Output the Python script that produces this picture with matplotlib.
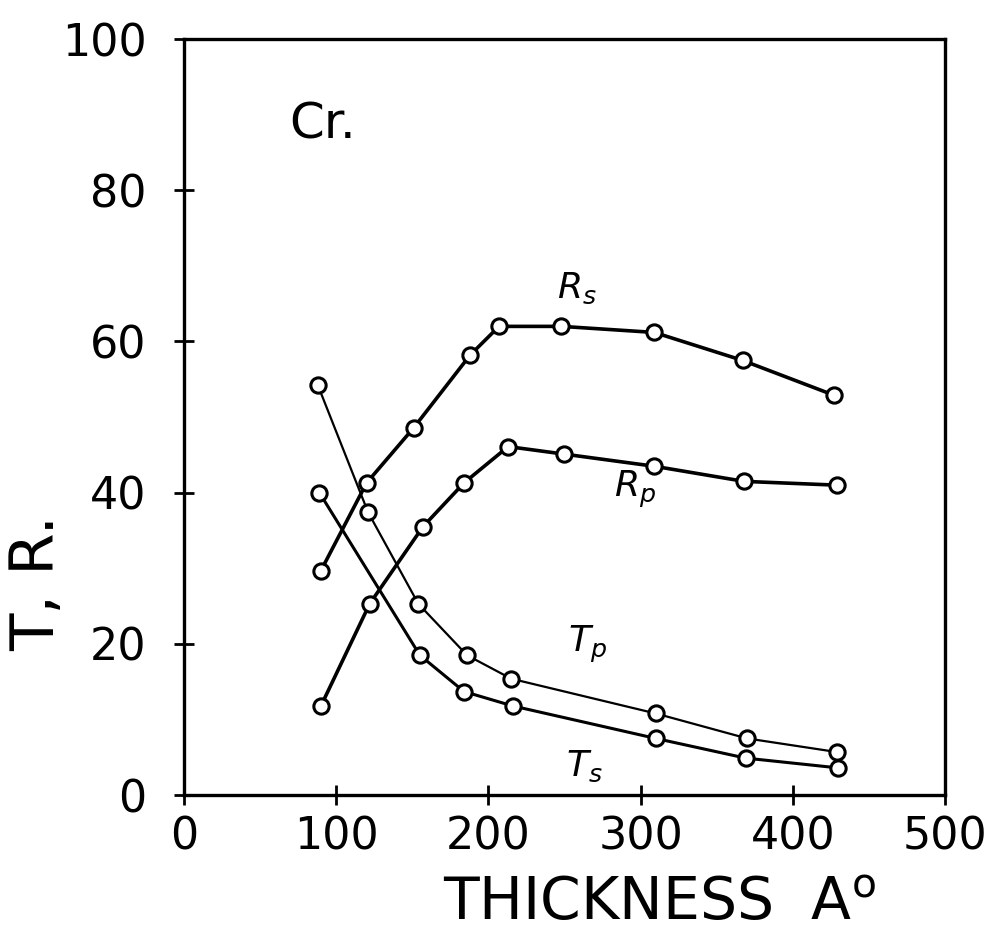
import matplotlib.pyplot as plt

# thickness (Angstrom) and percent values for each curve of the Cr film
rs_x = [90, 120, 151, 188, 207, 248, 309, 367, 427]
rs_y = [29.7, 41.3, 48.6, 58.2, 62.0, 62.0, 61.2, 57.5, 52.9]

rp_x = [90, 122, 157, 184, 213, 250, 309, 368, 429]
rp_y = [11.8, 25.3, 35.5, 41.3, 46.1, 45.1, 43.5, 41.5, 41.0]

tp_x = [88, 121, 154, 186, 215, 310, 370, 429]
tp_y = [54.2, 37.4, 25.3, 18.5, 15.4, 10.8, 7.5, 5.7]

ts_x = [89, 155, 184, 216, 310, 369, 430]
ts_y = [40.0, 18.5, 13.7, 11.8, 7.5, 4.9, 3.6]

x_ticks = [0, 100, 200, 300, 400, 500]
y_ticks = [0, 20, 40, 60, 80, 100]


def main():
    fig = plt.figure(figsize=(10.08, 9.3), dpi=100)
    ax = fig.add_axes([0.1825, 0.145, 0.755, 0.813])

    series = [
        (rs_x, rs_y, 2.6),
        (rp_x, rp_y, 2.6),
        (tp_x, tp_y, 1.6),
        (ts_x, ts_y, 2.2),
    ]
    for xs, ys, lw in series:
        ax.plot(xs, ys, color='black', lw=lw, marker='o', markersize=11,
                markerfacecolor='white', markeredgecolor='black',
                markeredgewidth=2.2, zorder=3)

    ax.set_xlim(0, 500)
    ax.set_ylim(0, 100)
    ax.set_xticks(x_ticks)
    ax.set_yticks(y_ticks)
    ax.tick_params(direction='inout', length=14, width=2, labelsize=32)
    ax.tick_params(axis='x', pad=8)
    ax.tick_params(axis='y', pad=20)
    for s in ax.spines.values():
        s.set_linewidth(2.4)

    ax.set_xlabel('THICKNESS  A$^{\\mathrm{o}}$', fontsize=42)
    ax.xaxis.set_label_coords(0.625, -0.105, transform=ax.transAxes)
    ax.set_ylabel('T, R.', fontsize=44)
    ax.yaxis.set_label_coords(-0.192, 0.28, transform=ax.transAxes)
    ax.yaxis.label.set_va('center')

    # curve names written next to each line
    ax.text(91, 88.7, 'Cr.', fontsize=36, ha='center', va='center')
    ax.text(258, 67, '$R_s$', fontsize=26, ha='center', va='center')
    ax.text(296, 40.4, '$R_p$', fontsize=26, ha='center', va='center')
    ax.text(265, 19.9, '$T_p$', fontsize=26, ha='center', va='center')
    ax.text(263, 3.8, '$T_s$', fontsize=26, ha='center', va='center')

    fig.savefig('out.png', dpi=100)


if __name__ == "__main__":
    main()
